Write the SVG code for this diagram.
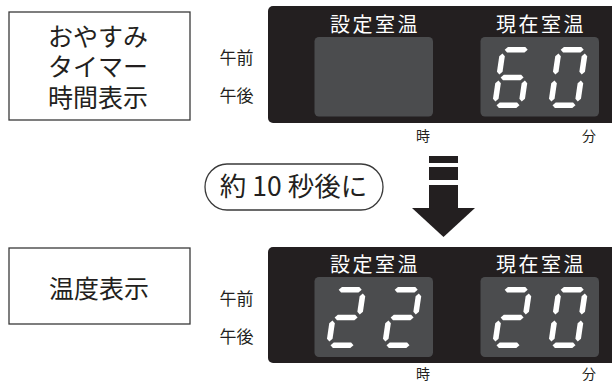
<svg xmlns="http://www.w3.org/2000/svg" xmlns:xlink="http://www.w3.org/1999/xlink" width="612" height="381" viewBox="0 0 612 381">
<style>
text{font-family:"Noto Sans CJK JP","Noto Sans",sans-serif;fill:#231f20}
.box{fill:#fff;stroke:#3a3a3a;stroke-width:1.3}
.panel{fill:#231f20}
.win{fill:#4b4c4e}
.lbl{fill:#fff;font-size:20px;letter-spacing:2.5px;text-anchor:middle}
.big{font-size:25px;text-anchor:middle}
.ap{font-size:17px;text-anchor:middle}
.unit{font-size:14px;text-anchor:middle}
.seg{fill:#fff}
.arr{fill:#231f20}
</style>
<defs>
<polygon id="sa" class="seg" points="4.5,-58.2 7.3,-61 24.7,-61 27.5,-58.2 24.7,-55.4 7.3,-55.4"/>
<polygon id="sg" class="seg" points="4.5,-30.5 7.3,-33.3 24.7,-33.3 27.5,-30.5 24.7,-27.7 7.3,-27.7"/>
<polygon id="sd" class="seg" points="4.5,-2.8 7.3,-5.6 24.7,-5.6 27.5,-2.8 24.7,0 7.3,0"/>
<polygon id="sf" class="seg" points="2.8,-54.5 5.6,-51.7 5.6,-36.3 2.8,-33.5 0,-36.3 0,-51.7"/>
<polygon id="se" class="seg" points="2.8,-27.5 5.6,-24.7 5.6,-9.3 2.8,-6.5 0,-9.3 0,-24.7"/>
<polygon id="sb" class="seg" points="29.2,-54.5 32,-51.7 32,-36.3 29.2,-33.5 26.4,-36.3 26.4,-51.7"/>
<polygon id="sc" class="seg" points="29.2,-27.5 32,-24.7 32,-9.3 29.2,-6.5 26.4,-9.3 26.4,-24.7"/>
<g id="d6"><use xlink:href="#sa"/><use xlink:href="#sf"/><use xlink:href="#sg"/><use xlink:href="#se"/><use xlink:href="#sd"/><use xlink:href="#sc"/></g>
<g id="d0"><use xlink:href="#sa"/><use xlink:href="#sb"/><use xlink:href="#sc"/><use xlink:href="#sd"/><use xlink:href="#se"/><use xlink:href="#sf"/></g>
<g id="d2"><use xlink:href="#sa"/><use xlink:href="#sb"/><use xlink:href="#sg"/><use xlink:href="#se"/><use xlink:href="#sd"/></g>
</defs>

<g id="box-timer">
<rect class="box" x="9" y="12" width="181" height="108"/>
<text class="big" x="98" y="45.5">おやすみ</text>
<text class="big" x="98" y="75.5">タイマー</text>
<text class="big" x="98" y="106.5">時間表示</text>
</g>

<g id="panel-timer">
<text class="ap" x="236.5" y="64">午前</text>
<text class="ap" x="236.5" y="102">午後</text>
<rect class="panel" x="268" y="6" width="360" height="117" rx="5"/>
<text class="lbl" x="375" y="32">設定室温</text>
<text class="lbl" x="541" y="32">現在室温</text>
<rect class="win" x="314.5" y="37" width="118.5" height="79.5" rx="4.5"/>
<rect class="win" x="480.5" y="37" width="118.5" height="79.5" rx="4.5"/>
<use xlink:href="#d6" transform="translate(491.6,108) skewX(-8.4)"/>
<use xlink:href="#d0" transform="translate(547.6,108) skewX(-8.4)"/>
<text class="unit" x="423" y="141">時</text>
<text class="unit" x="589" y="141">分</text>
</g>

<g id="pill">
<rect class="box" x="205" y="164" width="178" height="46" rx="22" ry="23"/>
<text x="293.5" y="195.5" font-size="26.5" text-anchor="middle">約 10 秒後に</text>
</g>

<g id="connectors">
<rect class="arr" x="429" y="156" width="29" height="7"/>
<rect class="arr" x="429" y="167" width="29" height="13"/>
<rect class="arr" x="429" y="185" width="29" height="24"/>
<polygon class="arr" points="412,208 475,208 443.5,237"/>
</g>

<g id="box-temp">
<rect class="box" x="9" y="248" width="181" height="76"/>
<text class="big" x="99" y="297.5" font-size="26">温度表示</text>
</g>

<g id="panel-temp">
<text class="ap" x="236.5" y="304.5">午前</text>
<text class="ap" x="236.5" y="342.5">午後</text>
<rect class="panel" x="268" y="247" width="360" height="116" rx="5"/>
<text class="lbl" x="375" y="272">設定室温</text>
<text class="lbl" x="541" y="272">現在室温</text>
<rect class="win" x="314.5" y="277" width="118.5" height="80" rx="4.5"/>
<rect class="win" x="480.5" y="277" width="118.5" height="80" rx="4.5"/>
<use xlink:href="#d2" transform="translate(325.6,348) skewX(-8.4)"/>
<use xlink:href="#d2" transform="translate(381.6,348) skewX(-8.4)"/>
<use xlink:href="#d2" transform="translate(491.6,348) skewX(-8.4)"/>
<use xlink:href="#d0" transform="translate(547.6,348) skewX(-8.4)"/>
<text class="unit" x="423" y="378.5">時</text>
<text class="unit" x="589" y="378.5">分</text>
</g>
</svg>
